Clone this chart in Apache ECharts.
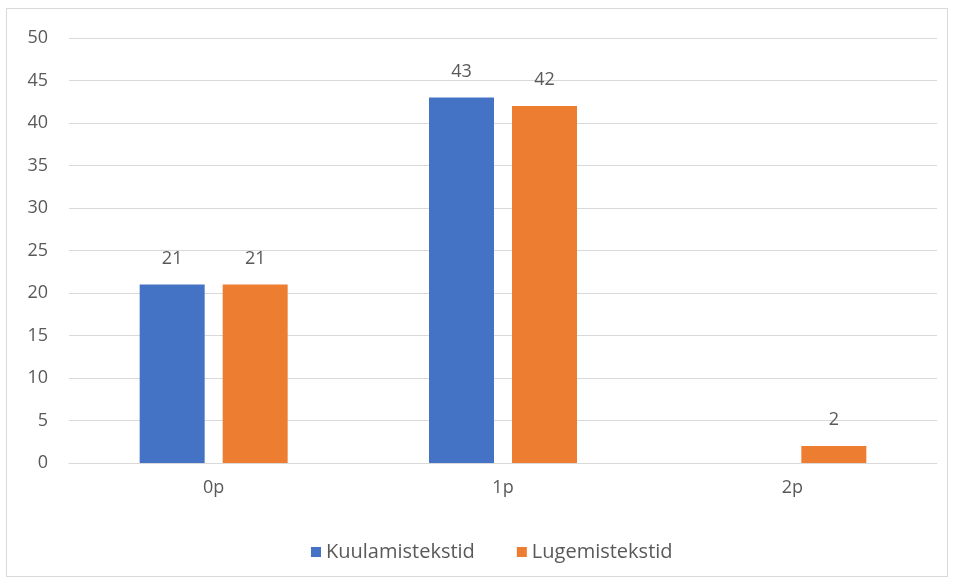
<!DOCTYPE html>
<html>
<head>
<meta charset="utf-8">
<script src="https://cdn.jsdelivr.net/npm/echarts@6/dist/echarts.min.js"></script>
<style>
html,body{margin:0;padding:0;background:#fff;}
#frame{position:absolute;left:6px;top:8px;width:942px;height:569px;border:1px solid #d9d9d9;box-sizing:border-box;}
#chart{position:absolute;left:0;top:0;width:955px;height:580px;}
</style>
</head>
<body>
<div id="frame"></div>
<div id="chart"></div>
<script>
var categories = ['0p', '1p', '2p'];
var kuulamine = [21, 43, 0];
var lugemine = [21, 42, 2];
var seriesNames = ['Kuulamistekstid', 'Lugemistekstid'];
var yTicks = {min: 0, max: 50, step: 5};

var txt = '#595959';
var fontFam = '"Open Sans", "Noto Sans", sans-serif';

// hide the label of an empty bar (2p blue has none in the original)
function barLabel(p){ return p.value === 0 ? '' : p.value; }

var chart = echarts.init(document.getElementById('chart'));
chart.setOption({
  animation: false,
  textStyle: {fontFamily: fontFam},
  legend: {
    top: 537,
    left: 306,
    itemWidth: 10,
    itemHeight: 10,
    itemGap: 42,
    icon: 'rect',
    textStyle: {color: txt, fontSize: 20, fontFamily: fontFam},
    data: seriesNames
  },
  grid: {left: 69, right: 18, top: 38, bottom: 117},
  xAxis: {
    type: 'category',
    data: categories,
    axisLine: {lineStyle: {color: '#d9d9d9'}},
    axisTick: {show: false},
    axisLabel: {color: txt, fontSize: 18, margin: 16}
  },
  yAxis: {
    type: 'value',
    min: yTicks.min,
    max: yTicks.max,
    interval: yTicks.step,
    axisLine: {show: false},
    axisTick: {show: false},
    splitLine: {lineStyle: {color: '#d9d9d9'}},
    axisLabel: {color: txt, fontSize: 18, margin: 21}
  },
  series: [
    {
      name: seriesNames[0],
      type: 'bar',
      data: kuulamine,
      barWidth: 65,
      barGap: '27.7%',
      itemStyle: {color: '#4472C4'},
      label: {show: true, position: 'top', distance: 17, color: txt, fontSize: 18, formatter: barLabel}
    },
    {
      name: seriesNames[1],
      type: 'bar',
      data: lugemine,
      barWidth: 65,
      itemStyle: {color: '#ED7D31'},
      label: {show: true, position: 'top', distance: 17, color: txt, fontSize: 18, formatter: barLabel}
    }
  ]
});
</script>
</body>
</html>
